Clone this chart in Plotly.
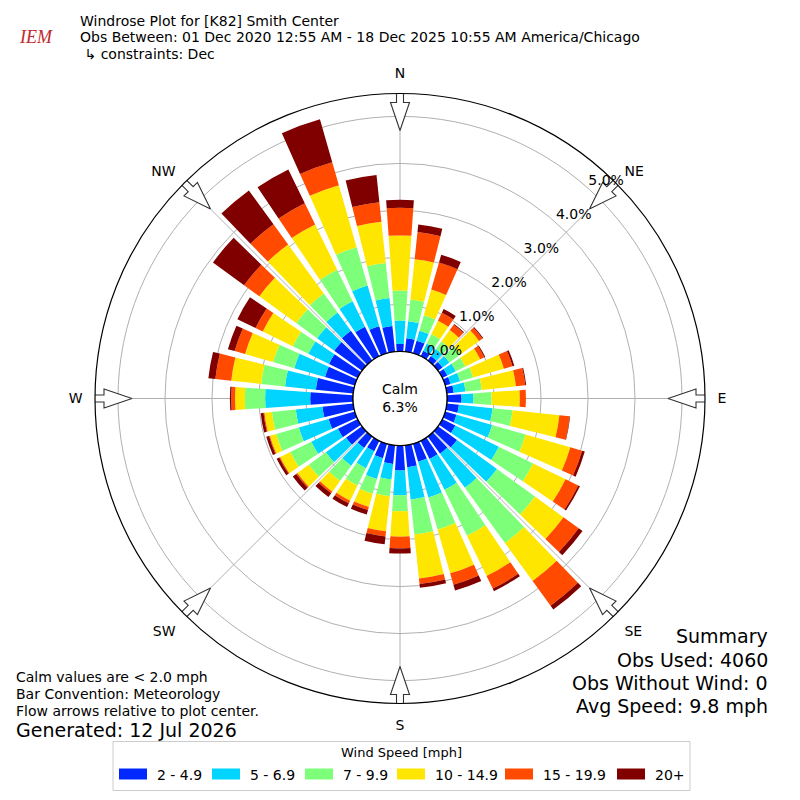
import math
import plotly.graph_objects as go

# wind direction bins (degrees, meteorological)
directions = list(range(0, 360, 10))

# frequency (%) per speed bin
speed_2_5 = [0.16, 0.29, 0.28, 0.13, 0.12, 0.12, 0.12, 0.12, 0.15, 0.31,
             0.26, 0.25, 0.31, 0.50, 0.45, 0.43, 0.40, 0.47, 0.53, 0.40,
             0.32, 0.25, 0.30, 0.42, 0.47, 0.58, 0.66, 0.91, 0.80, 0.66,
             0.68, 0.73, 0.78, 0.70, 0.60, 0.55]
speed_5_7 = [0.50, 0.36, 0.22, 0.17, 0.18, 0.18, 0.20, 0.21, 0.25, 0.25,
             0.72, 0.79, 1.03, 1.05, 0.90, 0.73, 0.79, 0.69, 0.53, 0.33,
             0.46, 0.40, 0.47, 0.53, 0.63, 0.66, 0.57, 0.96, 0.66, 0.68,
             0.49, 0.45, 0.48, 0.60, 0.90, 0.60]
speed_7_10 = [0.64, 0.47, 0.34, 0.22, 0.20, 0.30, 0.23, 0.29, 0.35, 0.39,
              0.43, 0.74, 0.81, 1.00, 1.45, 1.09, 0.71, 0.75, 0.34, 0.36,
              0.33, 0.41, 0.40, 0.45, 0.50, 0.50, 0.51, 0.43, 0.51, 0.47,
              0.37, 0.55, 0.50, 0.75, 0.85, 0.75]
speed_10_15 = [1.17, 0.86, 0.57, 0.32, 0.30, 0.48, 0.35, 0.68, 0.73, 0.60,
               1.00, 0.99, 0.77, 0.75, 1.00, 0.95, 0.97, 0.94, 0.54, 0.75,
               0.29, 0.36, 0.28, 0.30, 0.24, 0.14, 0.16, 0.21, 0.64, 0.62,
               0.71, 0.97, 1.29, 1.07, 1.37, 0.88]
speed_15_20 = [0.59, 0.58, 0.60, 0.19, 0.14, 0.09, 0.10, 0.19, 0.20, 0.13,
               0.22, 0.26, 0.30, 0.40, 0.65, 0.30, 0.25, 0.12, 0.25, 0.11,
               0.07, 0.06, 0.04, 0.03, 0.02, 0.02, 0.02, 0.08, 0.34, 0.23,
               0.17, 0.40, 0.53, 0.50, 0.51, 0.42]
speed_20_up = [0.17, 0.16, 0.17, 0.09, 0.02, 0.02, 0.02, 0.04, 0.02, 0.00,
               0.01, 0.06, 0.04, 0.10, 0.10, 0.06, 0.13, 0.08, 0.11, 0.17,
               0.10, 0.09, 0.10, 0.09, 0.06, 0.06, 0.06, 0.03, 0.15, 0.15,
               0.43, 0.82, 0.89, 0.80, 0.95, 0.58]

speed_labels = ["2 - 4.9", "5 - 6.9", "7 - 9.9", "10 - 14.9", "15 - 19.9", "20+"]
speed_colors = ["#0028ff", "#00d4ff", "#7dff7a", "#ffe600", "#ff4a00", "#800000"]
speed_series = [speed_2_5, speed_5_7, speed_7_10, speed_10_15, speed_15_20, speed_20_up]

compass_vals = [0, 45, 90, 135, 180, 225, 270, 315]
compass_text = ["N", "NE", "E", "SE", "S", "SW", "W", "NW"]
radial_ticks = [0, 1, 2, 3, 4, 5]

calm_pct = 6.3

FONT = "DejaVu Sans"

# polar geometry (pixels): outer radius, calm hole radius
R_OUT = 305
R_HOLE = 47
PX_PER_PCT = 47
R_MAX = (R_OUT - R_HOLE) / PX_PER_PCT

# page offset seen when the html is rendered (body margin)
OFF_X, OFF_Y = 8, 7.5


def px_x(x):
    return (x - OFF_X) / 800


def px_y(y):
    return 1 - (y - OFF_Y) / 800


fig = go.Figure()

for vals, lab, col in zip(speed_series, speed_labels, speed_colors):
    fig.add_trace(go.Barpolar(
        r=vals, theta=directions, width=8, name=lab,
        marker=dict(color=col, line=dict(width=0)), showlegend=False,
    ))

# black outline of the calm circle
circle_theta = list(range(0, 361, 3))
fig.add_trace(go.Scatterpolar(
    r=[0] * len(circle_theta), theta=circle_theta, mode="lines",
    line=dict(color="black", width=1.3), showlegend=False, hoverinfo="skip",
))

# flow arrows (block arrows pointing to the centre) at the compass points
arrow_shape = [(308, -3.5), (296, -3.5), (296, -9.5), (268, 0),
               (296, 9.5), (296, 3.5), (308, 3.5), (308, -3.5)]
for ang in compass_vals:
    rr, tt = [], []
    for d, w in arrow_shape:
        rr.append(math.hypot(d, w) / PX_PER_PCT - R_HOLE / PX_PER_PCT)
        tt.append(ang + math.degrees(math.atan2(w, d)))
    fig.add_trace(go.Scatterpolar(
        r=rr, theta=tt, mode="lines", fill="toself", fillcolor="white",
        line=dict(color="#333333", width=1.1), cliponaxis=False,
        showlegend=False, hoverinfo="skip",
    ))

# radial tick labels centred on the NE spoke
fig.add_trace(go.Scatterpolar(
    r=[v + 0.37 for v in radial_ticks], theta=[43.5] * len(radial_ticks),
    mode="text", text=[f"{v:.1f}%" for v in radial_ticks],
    textfont=dict(size=14, color="black"), textposition="middle center",
    cliponaxis=False, showlegend=False, hoverinfo="skip",
))

cx, cy = 400, 398
fig.update_layout(
    width=800, height=800,
    margin=dict(l=0, r=0, t=0, b=0),
    paper_bgcolor="white",
    font=dict(family=FONT, color="black", size=13),
    showlegend=False,
    polar=dict(
        domain=dict(x=[px_x(cx - 330), px_x(cx + 330)],
                    y=[px_y(cy + R_OUT), px_y(cy - R_OUT)]),
        hole=R_HOLE / R_OUT,
        barmode="stack",
        bgcolor="white",
        radialaxis=dict(
            range=[0, R_MAX], tickvals=radial_ticks, showticklabels=False,
            angle=45, showline=False, ticks="",
            gridcolor="#b0b0b0", gridwidth=1,
        ),
        angularaxis=dict(
            rotation=90, direction="clockwise",
            tickvals=compass_vals, ticktext=compass_text,
            showline=True, linecolor="black", linewidth=1.2,
            gridcolor="#b0b0b0", gridwidth=1,
            ticks="outside", ticklen=9, tickcolor="rgba(0,0,0,0)",
            tickfont=dict(size=14),
        ),
    ),
)

# legend drawn by hand so the swatches are wide like the reference
fig.add_shape(type="rect", xref="paper", yref="paper",
              x0=px_x(113), x1=px_x(690), y0=px_y(790), y1=px_y(741),
              line=dict(color="#cccccc", width=1), fillcolor="white", layer="above")
fig.add_annotation(x=px_x(401), y=px_y(752), xref="paper", yref="paper",
                   text="Wind Speed [mph]", showarrow=False,
                   xanchor="center", yanchor="middle", font=dict(size=13))
swatch_x = [119, 212, 305, 397, 505, 617]
for sx, lab, col in zip(swatch_x, speed_labels, speed_colors):
    fig.add_shape(type="rect", xref="paper", yref="paper",
                  x0=px_x(sx), x1=px_x(sx + 28), y0=px_y(779), y1=px_y(768),
                  line=dict(width=0), fillcolor=col, layer="above")
    fig.add_annotation(x=px_x(sx + 36), y=px_y(774), xref="paper", yref="paper",
                       text=lab, showarrow=False, xanchor="left",
                       yanchor="middle", font=dict(size=14))

# title block
header = [
    ("Windrose Plot for [K82] Smith Center", 20),
    ("Obs Between: 01 Dec 2020 12:55 AM - 18 Dec 2025 10:55 AM America/Chicago", 37),
    (" \u21b3 constraints: Dec", 54),
]
for txt, ypx in header:
    fig.add_annotation(x=px_x(78), y=px_y(ypx), xref="paper", yref="paper",
                       text=txt, showarrow=False, xanchor="left", yanchor="middle",
                       font=dict(size=14))

fig.add_annotation(x=px_x(36), y=px_y(37), xref="paper", yref="paper",
                   text="<i>IEM</i>", showarrow=False, xanchor="center",
                   yanchor="middle",
                   font=dict(family="Liberation Serif", size=18, color="#c0282d"))

fig.add_annotation(x=px_x(cx), y=px_y(cy), xref="paper", yref="paper",
                   text=f"Calm<br>{calm_pct:.1f}%", showarrow=False,
                   xanchor="center", yanchor="middle",
                   font=dict(size=14), align="center")

notes = [
    ("Calm values are < 2.0 mph", 676, 14),
    ("Bar Convention: Meteorology", 693, 14),
    ("Flow arrows relative to plot center.", 710, 14),
    ("Generated: 12 Jul 2026", 729, 19),
]
for txt, ypx, sz in notes:
    fig.add_annotation(x=px_x(14), y=px_y(ypx), xref="paper", yref="paper",
                       text=txt, showarrow=False, xanchor="left", yanchor="middle",
                       font=dict(size=sz))

summary = [
    ("Summary", 635),
    ("Obs Used: 4060", 659),
    ("Obs Without Wind: 0", 682),
    ("Avg Speed: 9.8 mph", 705),
]
for txt, ypx in summary:
    fig.add_annotation(x=px_x(770), y=px_y(ypx), xref="paper", yref="paper",
                       text=txt, showarrow=False, xanchor="right", yanchor="middle",
                       font=dict(size=19))

fig.write_html("out.html")
